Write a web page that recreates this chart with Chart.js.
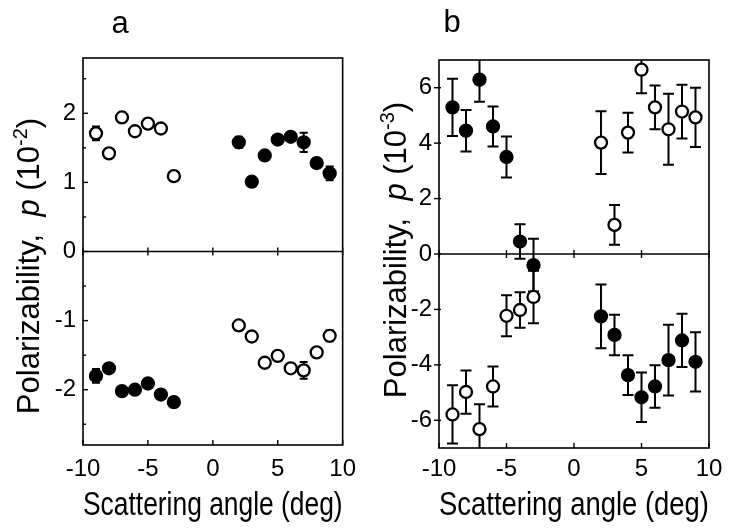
<!DOCTYPE html>
<html>
<head>
<meta charset="utf-8">
<script src="https://cdn.jsdelivr.net/npm/chart.js@4.4.1/dist/chart.umd.min.js"></script>
<style>
  html, body { margin: 0; padding: 0; background: #fff; }
  #wrap { position: relative; width: 732px; height: 528px; }
  canvas { position: absolute; top: 0; }
  #ca { left: 0; }
  #cb { left: 366px; }
</style>
</head>
<body>
<div id="wrap">
  <canvas id="ca" width="366" height="528"></canvas>
  <canvas id="cb" width="366" height="528"></canvas>
</div>
<script>
// ---------- data ----------
const anglesLeft  = [-9, -8, -7, -6, -5, -4, -3];
const anglesRight = [2, 3, 4, 5, 6, 7, 8, 9];

// panel a (units 10^-2)
const aOpenTop      = [1.71, 1.42, 1.94, 1.74, 1.85, 1.78, 1.09];
const aOpenTopErr   = [0.10, 0.05, 0.07, 0.05, 0.05, 0.05, 0.04];
const aFilledTop    = [1.58, 1.01, 1.39, 1.62, 1.66, 1.58, 1.28, 1.13];
const aFilledTopErr = [0.08, 0.05, 0.05, 0.06, 0.06, 0.14, 0.07, 0.10];
const aFilledBot    = [-1.80, -1.69, -2.02, -2.00, -1.91, -2.07, -2.18];
const aFilledBotErr = [0.10, 0.05, 0.06, 0.05, 0.06, 0.05, 0.06];
const aOpenBot      = [-1.07, -1.23, -1.61, -1.51, -1.69, -1.72, -1.46, -1.22];
const aOpenBotErr   = [0.06, 0.06, 0.05, 0.06, 0.05, 0.12, 0.06, 0.08];

// panel b (units 10^-3)
const bFilledTop    = [5.29, 4.45, 6.29, 4.60, 3.50, 0.45, -0.40];
const bFilledTopErr = [1.03, 0.75, 0.80, 0.72, 0.74, 0.62, 0.95];
const bOpenTop      = [4.02, 1.05, 4.38, 6.65, 5.29, 4.50, 5.14, 4.93];
const bOpenTopErr   = [1.13, 0.72, 0.72, 0.85, 0.79, 1.28, 0.97, 1.07];
const bOpenBot      = [-5.79, -4.98, -6.32, -4.78, -2.23, -2.02, -1.55];
const bOpenBotErr   = [1.05, 0.78, 0.90, 0.72, 0.74, 0.64, 0.95];
const bFilledBot    = [-2.25, -2.92, -4.37, -5.17, -4.78, -3.83, -3.12, -3.89];
const bFilledBotErr = [1.15, 0.73, 0.72, 0.89, 0.77, 1.28, 0.96, 1.07];

// ticks / labels
const xTicks  = [-10, -5, 0, 5, 10];
const yTicksA = [-2, -1, 0, 1, 2];
const yMinorA = [-2.5, -1.5, -0.5, 0.5, 1.5, 2.5];
const yTicksB = [-6, -4, -2, 0, 2, 4, 6];
const xTitle  = 'Scattering angle (deg)';
const yTitleMain = 'Polarizability,  ';
const yTitleVar  = 'p';
const expA = '-2';
const expB = '-3';
const panelA = 'a';
const panelB = 'b';

// ---------- helpers ----------
const FAM = '"Liberation Sans Narrow", "Liberation Sans", Arial, Helvetica, sans-serif';
Chart.defaults.font.family = FAM;
Chart.defaults.color = '#000';

function pts(xs, ys) { return xs.map((x, i) => ({ x: x, y: ys[i] })); }
function ds(xs, ys, errs, filled) {
  return {
    data: pts(xs, ys),
    errors: errs,
    pointRadius: 6,
    pointHoverRadius: 6,
    pointBorderWidth: 2.3,
    pointBorderColor: '#000',
    pointBackgroundColor: filled ? '#000' : '#fff',
    showLine: false
  };
}

function drawYTitle(ctx, cx, cy, exp) {
  const F = 31;
  const normal = F + 'px ' + FAM;
  const italic = 'italic ' + F + 'px ' + FAM;
  const sup = Math.round(F * 0.65) + 'px ' + FAM;
  const parts = [
    { t: yTitleMain, f: normal, dy: 0 },
    { t: yTitleVar, f: italic, dy: 0 },
    { t: ' (10', f: normal, dy: 0 },
    { t: exp, f: sup, dy: -F * 0.38 },
    { t: ')', f: normal, dy: 0 }
  ];
  ctx.save();
  ctx.translate(cx, cy);
  ctx.rotate(-Math.PI / 2);
  ctx.fillStyle = '#000';
  ctx.textBaseline = 'alphabetic';
  ctx.textAlign = 'left';
  let total = 0;
  parts.forEach(p => { ctx.font = p.f; p.w = ctx.measureText(p.t).width; total += p.w; });
  let x = -total / 2;
  const base = F * 0.36;
  parts.forEach(p => { ctx.font = p.f; ctx.fillText(p.t, x, base + p.dy); x += p.w; });
  ctx.restore();
}

function makePlugin(cfg) {
  return {
    id: 'decor' + cfg.letter,
    beforeDatasetsDraw(chart) {
      const { ctx, chartArea: a, scales: { x, y } } = chart;
      ctx.save();
      ctx.beginPath();
      ctx.rect(a.left, a.top, a.right - a.left, a.bottom - a.top);
      ctx.clip();
      ctx.strokeStyle = '#000';
      ctx.lineWidth = 2;
      const cap = cfg.cap;
      chart.data.datasets.forEach(d => {
        d.data.forEach((p, i) => {
          const e = d.errors[i];
          const px = x.getPixelForValue(p.x);
          const y1 = y.getPixelForValue(p.y + e);
          const y2 = y.getPixelForValue(p.y - e);
          ctx.beginPath();
          ctx.moveTo(px, y1); ctx.lineTo(px, y2);
          ctx.moveTo(px - cap, y1); ctx.lineTo(px + cap, y1);
          ctx.moveTo(px - cap, y2); ctx.lineTo(px + cap, y2);
          ctx.stroke();
        });
      });
      ctx.restore();
    },
    afterDraw(chart) {
      const { ctx, chartArea: a, scales: { x, y } } = chart;
      ctx.save();
      ctx.strokeStyle = '#000';
      ctx.lineWidth = 1.6;
      ctx.strokeRect(a.left, a.top, a.right - a.left, a.bottom - a.top);
      const y0 = y.getPixelForValue(0);
      ctx.beginPath(); ctx.moveTo(a.left, y0); ctx.lineTo(a.right, y0); ctx.stroke();
      ctx.lineWidth = 1.4;
      xTicks.forEach(v => {
        const px = x.getPixelForValue(v);
        ctx.beginPath();
        ctx.moveTo(px, y0 - 4); ctx.lineTo(px, y0 + 4);
        ctx.moveTo(px, a.bottom); ctx.lineTo(px, a.bottom - 5);
        ctx.stroke();
      });
      cfg.yTicks.forEach(v => {
        const py = y.getPixelForValue(v);
        ctx.beginPath();
        ctx.moveTo(a.left - cfg.tickOut, py); ctx.lineTo(a.left + cfg.tickIn, py);
        ctx.stroke();
      });
      (cfg.yMinor || []).forEach(v => {
        const py = y.getPixelForValue(v);
        ctx.beginPath();
        ctx.moveTo(a.left, py); ctx.lineTo(a.left + 3, py);
        ctx.stroke();
      });
      ctx.restore();
      drawYTitle(ctx, cfg.ytx, cfg.yty, cfg.exp);
      ctx.save();
      ctx.fillStyle = '#000';
      ctx.font = '31px ' + FAM;
      ctx.textAlign = 'center';
      ctx.textBaseline = 'alphabetic';
      ctx.fillText(cfg.letter, cfg.lx, cfg.ly);
      ctx.restore();
    }
  };
}

function makeChart(id, datasets, opt) {
  return new Chart(document.getElementById(id), {
    type: 'scatter',
    data: { datasets: datasets },
    options: {
      responsive: false,
      animation: false,
      devicePixelRatio: 1,
      layout: { padding: { top: opt.padTop, right: opt.padRight, left: 0, bottom: 0 } },
      plugins: { legend: { display: false }, tooltip: { enabled: false } },
      scales: {
        x: {
          type: 'linear', min: -10, max: 10,
          afterBuildTicks: s => { s.ticks = xTicks.map(v => ({ value: v })); },
          afterFit: s => { s.height = opt.xH; },
          grid: { display: false, drawTicks: false, tickLength: 0 },
          border: { display: false },
          ticks: { font: { size: 24 }, padding: opt.xTickPad, maxRotation: 0, autoSkip: false },
          title: { display: true, text: xTitle, font: { size: 34, lineHeight: 1.2 }, padding: { top: 0, bottom: opt.xTitlePad } }
        },
        y: {
          type: 'linear', min: opt.yMin, max: opt.yMax,
          afterBuildTicks: s => { s.ticks = opt.yTicks.map(v => ({ value: v })); },
          afterFit: s => { s.width = opt.yW; },
          grid: { display: false, drawTicks: false, tickLength: 0 },
          border: { display: false },
          ticks: { font: { size: 24 }, padding: opt.yTickPad, autoSkip: false }
        }
      }
    },
    plugins: [makePlugin(opt.plug)]
  });
}

makeChart('ca', [
  ds(anglesLeft, aOpenTop, aOpenTopErr, false),
  ds(anglesRight, aFilledTop, aFilledTopErr, true),
  ds(anglesLeft, aFilledBot, aFilledBotErr, true),
  ds(anglesRight, aOpenBot, aOpenBotErr, false)
], {
  padTop: 58, padRight: 12, xH: 83, yW: 83,
  yMin: -2.8, yMax: 2.8, yTicks: yTicksA,
  xTickPad: 10, yTickPad: 7, xTitlePad: 2,
  plug: { letter: panelA, lx: 120, ly: 33, cap: 4, yTicks: yTicksA, yMinor: yMinorA, tickOut: 0, tickIn: 5, ytx: 28, yty: 266, exp: expA }
});

makeChart('cb', [
  ds(anglesLeft, bFilledTop, bFilledTopErr, true),
  ds(anglesRight, bOpenTop, bOpenTopErr, false),
  ds(anglesLeft, bOpenBot, bOpenBotErr, false),
  ds(anglesRight, bFilledBot, bFilledBotErr, true)
], {
  padTop: 60, padRight: 23, xH: 80, yW: 73,
  yMin: -7, yMax: 7, yTicks: yTicksB,
  xTickPad: 7, yTickPad: 7, xTitlePad: 2,
  plug: { letter: panelB, lx: 86, ly: 32, cap: 5.5, yTicks: yTicksB, yMinor: [], tickOut: 5, tickIn: 2, ytx: 29, yty: 250, exp: expB }
});
</script>
</body>
</html>
